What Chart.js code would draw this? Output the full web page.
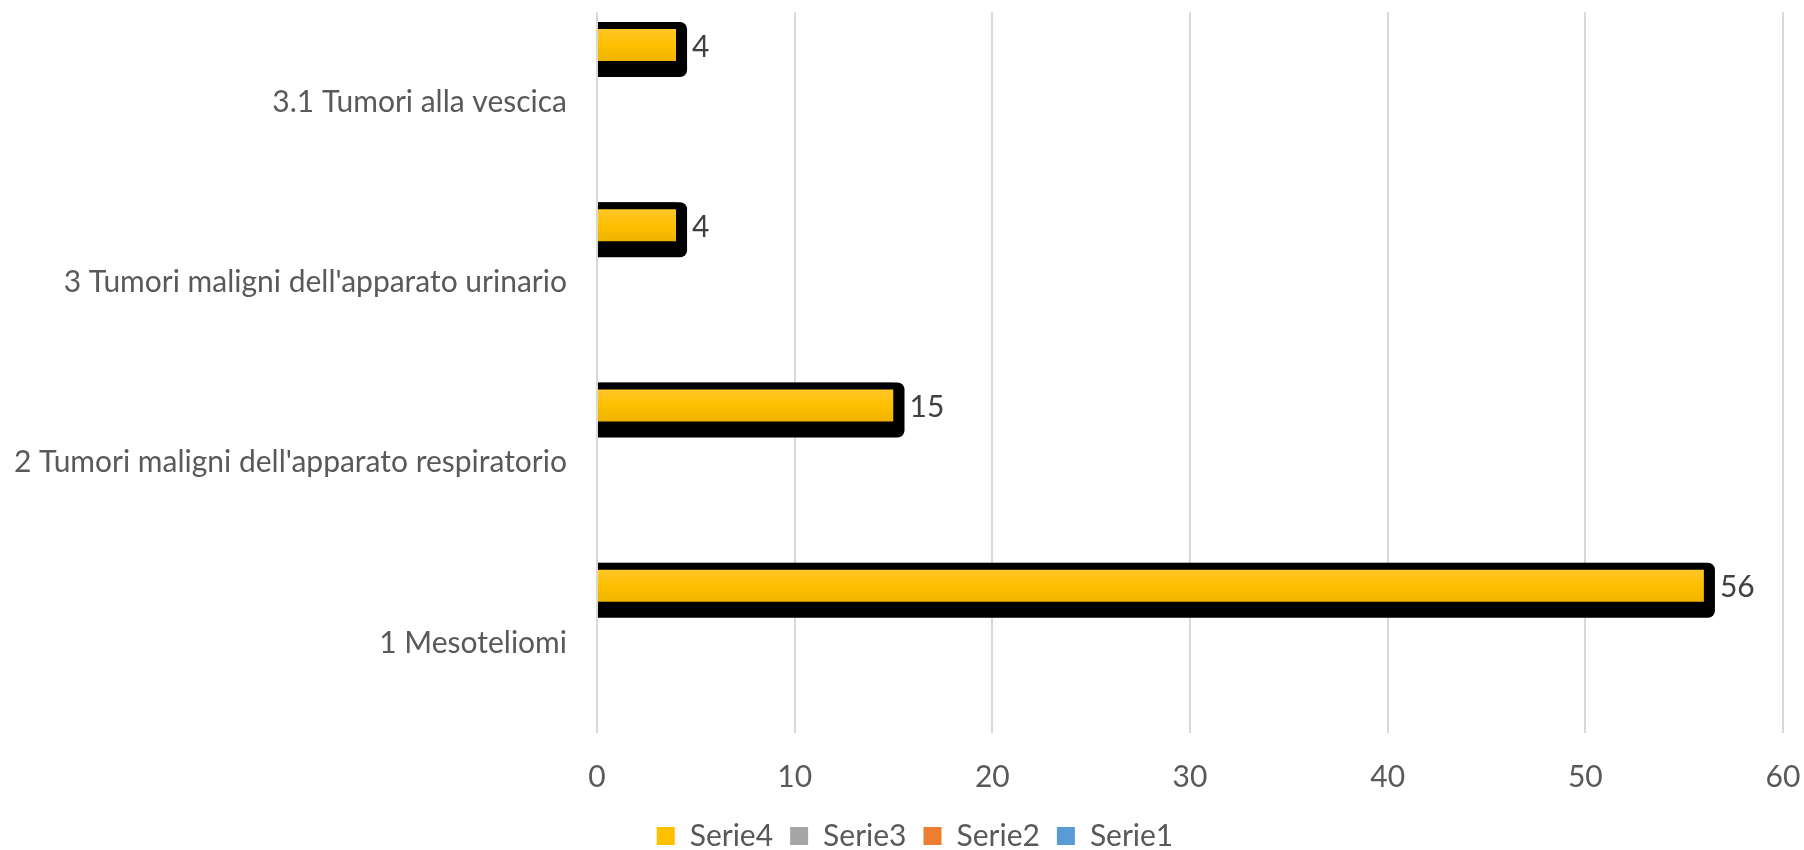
<!DOCTYPE html>
<html><head><meta charset="utf-8">
<script src="https://cdn.jsdelivr.net/npm/chart.js@4/dist/chart.umd.min.js"></script>
<style>html,body{margin:0;padding:0;background:#fff}#wrap{width:1804px;height:850px;position:relative}</style>
</head><body><div id="wrap"><canvas id="c" width="1804" height="850"></canvas></div>
<script>
// categories listed top to bottom as displayed
const categories = ["3.1 Tumori alla vescica", "3 Tumori maligni dell'apparato urinario", "2 Tumori maligni dell'apparato respiratorio", "1 Mesoteliomi"];
const serie4 = [4, 4, 15, 56];
const serie3 = [null, null, null, null];
const serie2 = [null, null, null, null];
const serie1 = [null, null, null, null];
const xTicks = [0, 10, 20, 30, 40, 50, 60];

const FONT = 'Lato, "Open Sans", sans-serif';
const TXT = '#595959';

const shadowPlugin = {
  id: 'barShadow',
  afterLayout(chart) {
    // Excel centres the legend slightly right of the canvas centre
    if (chart.legend) { chart.legend.left += 19; chart.legend.right += 19; }
  },
  beforeDatasetDraw(chart, args) {
    const ctx = chart.ctx;
    const meta = args.meta;
    const ds = chart.data.datasets[args.index];
    meta.data.forEach((el, i) => {
      if (ds.data[i] == null || !el) return;
      const top = el.y - el.height / 2, bot = el.y + el.height / 2;
      const st = ds.gradStops;
      const g = ctx.createLinearGradient(0, top, 0, bot);
      g.addColorStop(0, st[0]); g.addColorStop(0.5, st[1]); g.addColorStop(1, st[2]);
      el.options.backgroundColor = g;
      // black outline/shadow behind the bar: same element, drawn larger to the right and below
      const saved = el.options, sx = el.x, sy = el.y, sh = el.height;
      el.options = Object.assign({}, saved, {backgroundColor: '#000000', borderColor: '#000000', borderWidth: 0, borderRadius: 7, inflateAmount: 0});
      el.x = sx + 11; el.y = sy + 4.5; el.height = sh + 9;
      el.draw(ctx);
      el.x = sx; el.y = sy; el.height = sh;
      el.options = saved;
    });
  }
};

const labelPlugin = {
  id: 'vlabels',
  afterDatasetsDraw(chart) {
    const ctx = chart.ctx;
    chart.data.datasets.forEach((ds, di) => {
      const meta = chart.getDatasetMeta(di);
      meta.data.forEach((el, i) => {
        const v = ds.data[i];
        if (v == null) return;
        ctx.save();
        ctx.font = '30px ' + FONT;
        ctx.fillStyle = '#404040';
        ctx.textAlign = 'left';
        ctx.textBaseline = 'middle';
        ctx.fillText(String(v), el.x + 16, el.y + 2);
        ctx.restore();
      });
    });
  }
};

function mk(label, data, color, stops) {
  return {
    label, data,
    backgroundColor: (c) => color,
    gradStops: stops,
    borderColor: '#000000',
    borderWidth: {top: 7, bottom: 7, right: 0, left: 0},
    borderSkipped: 'start',
    categoryPercentage: 0.844,
    barPercentage: 1.21
  };
}

new Chart(document.getElementById('c'), {
  type: 'bar',
  data: {
    labels: categories,
    datasets: [
      mk('Serie4', serie4, '#FFC000', ['#FFCA3A', '#FFC000', '#E8AE00']),
      mk('Serie3', serie3, '#A5A5A5', ['#B0B0B0', '#A5A5A5', '#969696']),
      mk('Serie2', serie2, '#ED7D31', ['#F28A45', '#ED7D31', '#DA6A1E']),
      mk('Serie1', serie1, '#5B9BD5', ['#6AA6DC', '#5B9BD5', '#4A8AC6'])
    ]
  },
  options: {
    indexAxis: 'y',
    responsive: false,
    animation: false,
    layout: {padding: {top: 12, left: 9, right: 21, bottom: -11}},
    plugins: {
      legend: {
        position: 'bottom',
        labels: {
          font: {family: FONT, size: 30},
          color: TXT,
          boxWidth: 18, boxHeight: 18,
          padding: 17,
          generateLabels(chart) {
            return chart.data.datasets.map((ds, i) => ({
              text: ds.label,
              fillStyle: ds.gradStops[1],
              strokeStyle: ds.gradStops[1],
              lineWidth: 0,
              hidden: false,
              datasetIndex: i,
              fontColor: TXT
            }));
          }
        }
      },
      tooltip: {enabled: false}
    },
    scales: {
      x: {
        min: 0, max: 60,
        afterBuildTicks(s) { s.ticks = xTicks.map(v => ({value: v})); },
        grid: {color: '#D9D9D9', lineWidth: 2, drawTicks: false},
        border: {display: false},
        ticks: {font: {family: FONT, size: 30}, color: TXT, padding: 26},
        afterFit(s) { s.height = 71; s.paddingLeft = 0; s.paddingRight = 0; }
      },
      y: {
        grid: {display: false, drawTicks: false},
        border: {display: false},
        ticks: {font: {family: FONT, size: 30}, color: TXT, padding: 30},
        afterFit(s) { s.width = 588; s.paddingTop = 0; s.paddingBottom = 0; }
      }
    }
  },
  plugins: [shadowPlugin, labelPlugin]
});
</script>
</body></html>
